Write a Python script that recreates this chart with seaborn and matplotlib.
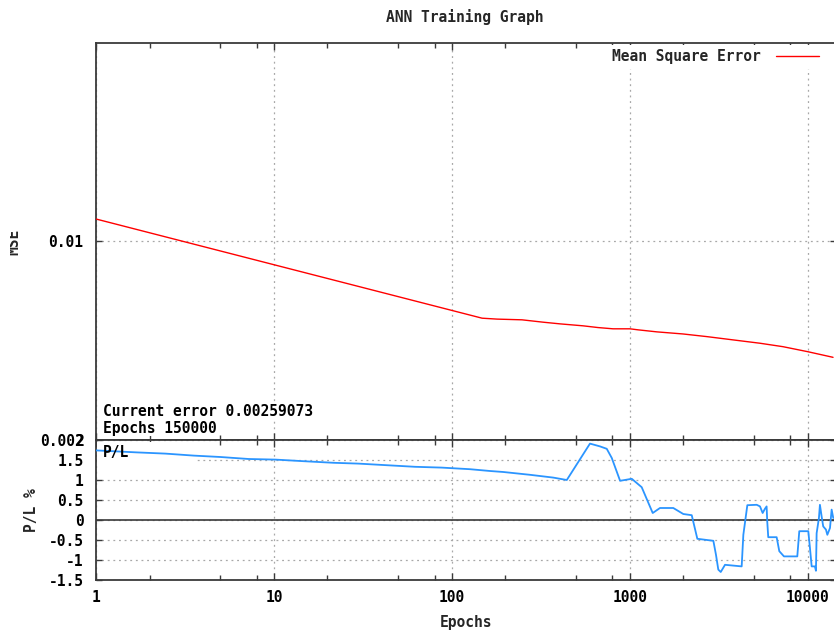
import numpy as np
import pandas as pd
import matplotlib
matplotlib.use("Agg")
import matplotlib.pyplot as plt
import seaborn as sns
from matplotlib.patches import Rectangle
from matplotlib.transforms import Bbox
from matplotlib.ticker import NullLocator

# ---------------- data ----------------
mse_epochs = [1, 148, 180, 248, 326, 406, 547, 664, 806, 1004, 1113, 1423,
              1992, 2716, 3808, 5399, 7272, 10050, 13900]
mse_values = [0.01192, 0.00535, 0.00531, 0.00528, 0.00518, 0.00511, 0.00503,
              0.00496, 0.00491, 0.00491, 0.00487, 0.00479, 0.00471, 0.00461,
              0.00449, 0.00437, 0.00425, 0.00408, 0.00390]

pl_epochs = [1, 1.70, 2.45, 3.54, 5.0, 7.22, 10.2, 14.7, 21.7,
             29.8, 43.0, 62.1, 87.7, 126.6, 164, 195, 275, 372, 443,
             598, 681, 743, 793, 883, 1027, 1168, 1347, 1480, 1758,
             2001, 2232, 2400, 2953, 3055, 3148, 3249, 3434, 4260, 4353,
             4584, 5175, 5399, 5590, 5756, 5883, 5930, 6009, 6699, 6933,
             7366, 8751, 8980, 10090, 10310, 10540, 10990, 11140, 11240, 11580,
             11730, 11990, 12240, 12680, 12910, 13360, 13650, 13940]
pl_values = [1.74, 1.69, 1.66, 1.61, 1.575, 1.525, 1.51, 1.47, 1.43,
             1.41, 1.37, 1.33, 1.31, 1.27, 1.225, 1.2, 1.13, 1.06, 1.0,
             1.91, 1.84, 1.78, 1.55, 0.98, 1.03, 0.82, 0.175, 0.3, 0.3,
             0.15, 0.12, -0.47, -0.52, -0.87, -1.24, -1.30, -1.12, -1.16, -0.37,
             0.37, 0.38, 0.34, 0.175, 0.28, 0.34, -0.03, -0.43, -0.43, -0.78,
             -0.91, -0.91, -0.28, -0.28, -0.70, -1.16, -1.16, -1.27, -0.33, 0.05,
             0.38, 0.09, -0.16, -0.24, -0.37, -0.2, 0.26, 0.05]

x_major = [1, 10, 100, 1000, 10000]
x_major_labels = ["1", "10", "100", "1000", "10000"]
x_minor = [m * d for d in [1, 10, 100, 1000, 10000] for m in (2, 5, 8)]
mse_ticks = [0.002, 0.01]
mse_tick_labels = ["0.002", "0.01"]
pl_ticks = [-1.5, -1, -0.5, 0, 0.5, 1, 1.5, 2]
pl_tick_labels = ["-1.5", "-1", "-0.5", "0", "0.5", "1", "1.5", "2"]

title = "ANN Training Graph"
mse_label = "Mean Square Error"
current_error_text = "Current error 0.00259073"
epochs_text = "Epochs 150000"

# ---------------- style ----------------
sns.set_theme(style="white")
plt.rcParams["font.family"] = ["DejaVu Sans Mono", "DejaVu Sans"]
plt.rcParams["font.weight"] = "bold"
FS = 10.5
SPINE = "#3a3a3a"
GRID = "#a8a8a8"
RED = "#ff0000"
BLUE = "#2b95ff"

W, H = 834, 630
fig = plt.figure(figsize=(W / 100, H / 100), dpi=100)
fig.patch.set_facecolor("white")


def fx(px):
    return px / W


def fy(py):
    return 1 - py / H


ax1 = fig.add_axes([fx(96), fy(440), 740 / W, 397 / H])
ax2 = fig.add_axes([fx(96), fy(580), 740 / W, 140 / H])

df_mse = pd.DataFrame({"epochs": mse_epochs, "mse": mse_values})
df_pl = pd.DataFrame({"epochs": pl_epochs, "pl": pl_values})

sns.lineplot(data=df_mse, x="epochs", y="mse", ax=ax1, color=RED, lw=1.0,
             estimator=None, sort=False, label=mse_label, zorder=3)
sns.lineplot(data=df_pl, x="epochs", y="pl", ax=ax2, color=BLUE, lw=1.3,
             estimator=None, sort=False, legend=False, zorder=3)

xmax = 10 ** (740 / 177.9)
for ax in (ax1, ax2):
    ax.set_xscale("log")
    ax.set_xlabel("")
    ax.set_ylabel("")
    ax.set_facecolor("white")
    for sp in ax.spines.values():
        sp.set_color(SPINE)
        sp.set_linewidth(1.3)
    ax.set_xticks(x_major)
    ax.set_xticks(x_minor, minor=True)
    ax.set_xlim(1, xmax)
    ax.tick_params(axis="x", which="major", direction="in", top=True, bottom=True,
                   length=5, width=1.0, color=SPINE, labelsize=FS, pad=7)
    ax.tick_params(axis="x", which="minor", direction="in", top=True, bottom=True,
                   length=3.5, width=1.0, color=SPINE)
    ax.tick_params(axis="y", which="major", direction="in", left=True, right=True,
                   length=4, width=1.0, color=SPINE, labelsize=FS, pad=9)
    ax.set_axisbelow(True)

ax1.set_yscale("log")
ax1.set_yticks(mse_ticks, mse_tick_labels)
ax1.yaxis.set_minor_locator(NullLocator())
ax1.set_ylim(0.002, 0.0494)
ax1.set_xticklabels([])
ax1.grid(True, which="major", color=GRID, linestyle=(0, (1.5, 3)), lw=0.9)

ax2.set_yticks(pl_ticks, pl_tick_labels)
ax2.set_ylim(-1.5, 2)
ax2.set_xticklabels(x_major_labels)
ax2.set_xlim(1, xmax)
ax2.grid(True, which="major", color=GRID, linestyle=(0, (1.5, 3)), lw=0.9)
ax2.axhline(0, color=SPINE, lw=1.2, zorder=2)
# key area of P/L blanks grid behind it
ax2.add_patch(Rectangle((0.002, (580 - 466) / 140), (194 - 96) / 740, 24 / 140,
                        transform=ax2.transAxes, facecolor="white",
                        edgecolor="none", zorder=1))

for lab in ax1.get_yticklabels() + ax2.get_yticklabels() + ax2.get_xticklabels():
    lab.set_fontweight("bold")
    lab.set_color("black")

# legend (text first, then sample)
leg = ax1.legend(loc="center right", bbox_to_anchor=(fx(823), fy(57)),
                 bbox_transform=fig.transFigure, markerfirst=False,
                 frameon=True, fancybox=False, borderpad=0.3,
                 handlelength=2.95, handletextpad=1.0, borderaxespad=0,
                 prop={"family": "DejaVu Sans Mono", "weight": "bold", "size": FS})
leg.get_frame().set_facecolor("white")
leg.get_frame().set_edgecolor("none")
leg.get_frame().set_alpha(1)

# annotations in the upper panel
txt_kw = dict(fontsize=FS, fontweight="bold", color="black", ha="left", va="center")
ax1.text(fx(103), fy(412), current_error_text, transform=fig.transFigure,
         bbox=dict(facecolor="white", edgecolor="none", pad=0.5), zorder=4, **txt_kw)
ax1.text(fx(103), fy(428), epochs_text, transform=fig.transFigure,
         bbox=dict(facecolor="white", edgecolor="none", pad=0.5), zorder=4, **txt_kw)
ax2.text(fx(103), fy(452), "P/L", transform=fig.transFigure, zorder=4, **txt_kw)

# titles / labels
fig.text(fx(465), fy(17), title, fontsize=FS, fontweight="bold", ha="center", va="center")
fig.text(fx(466), fy(622), "Epochs", fontsize=FS, fontweight="bold", ha="center", va="center")
fig.text(fx(32), fy(510), "P/L %", fontsize=FS, fontweight="bold", rotation=90,
         ha="center", va="center")
mse_t = fig.text(fx(21), fy(242), "MSE", fontsize=FS, fontweight="bold", rotation=90,
                 ha="right", va="center")
mse_t.set_clip_box(Bbox.from_extents(10, 0, W, H))
mse_t.set_clip_on(True)

fig.savefig("out.png", dpi=100)
